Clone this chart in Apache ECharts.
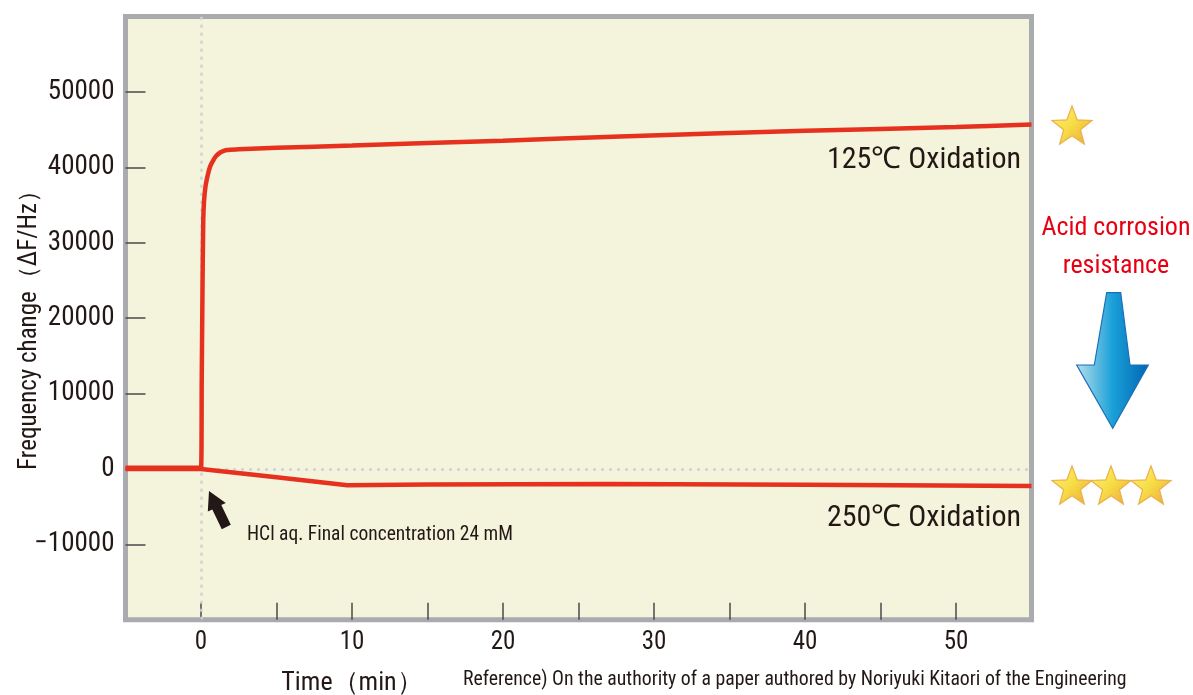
<!DOCTYPE html>
<html>
<head>
<meta charset="utf-8">
<script src="https://cdn.jsdelivr.net/npm/echarts@6/dist/echarts.min.js"></script>
<style>
html,body{margin:0;padding:0;background:#fff;}
#main{width:1193px;height:695px;}
</style>
</head>
<body>
<div id="main"></div>
<script>
// ---- data ----
const oxid125Time  = [-5, -2, 0, 0.05, 0.1, 0.15, 0.2, 0.3, 0.45, 0.6, 0.8, 1.0, 1.3, 1.7, 2.5, 5, 10, 20, 27.75, 40, 50, 55];
const oxid125Value = [150, 150, 150, 12000, 24000, 33000, 35500, 37500, 39000, 40100, 40900, 41500, 42000, 42300, 42400, 42600, 42900, 43550, 44100, 44850, 45350, 45700];
const oxid250Time  = [-5, -2, 0, 5, 9.7, 15, 27, 40, 55];
const oxid250Value = [0, 0, 0, -1100, -2150, -2050, -2000, -2100, -2250];
const xTickValues = [0, 5, 10, 15, 20, 25, 30, 35, 40, 45, 50];
const xLabelValues = [0, 10, 20, 30, 40, 50];
const yTickValues = [-10000, 0, 10000, 20000, 30000, 40000, 50000];
const seriesNames = ['125℃ Oxidation', '250℃ Oxidation'];

const NARROW = '"Liberation Sans Narrow", "Roboto Condensed", "Liberation Sans", sans-serif';
const TXT = '#231815';
const RED = '#e6311f';

function pairs(t, v){ return t.map((x,i)=>[x, v[i]]); }

function starPoints(cx, cy, R){
  const r = R*0.42, pts = [];
  for (let i=0;i<10;i++){
    const a = -Math.PI/2 + i*Math.PI/5;
    const rad = i%2===0 ? R : r;
    pts.push([cx + rad*Math.cos(a), cy + rad*Math.sin(a)]);
  }
  return pts;
}
const starFill = new echarts.graphic.LinearGradient(0,0,1,1,[
  {offset:0,color:'#fff27a'},{offset:0.5,color:'#f7dc45'},{offset:1,color:'#eca43a'}]);
function star(cx,cy){
  return {type:'polygon', shape:{points:starPoints(cx,cy,21)},
    style:{fill:starFill, stroke:'#eab04a', lineWidth:1.2}};
}

const chart = echarts.init(document.getElementById('main'), null, {renderer:'canvas'});
const option = {
  animation:false,
  backgroundColor:'#ffffff',
  grid:{left:125.5, right:161.5, top:16.6, bottom:75.2, show:true,
        backgroundColor:'#f4f3dc', borderColor:'#a9abae', borderWidth:5},
  xAxis:{
    type:'value', min:-5, max:55, interval:5,
    axisLine:{show:false, onZero:false},
    splitLine:{show:false},
    axisTick:{show:true, inside:true, length:17, customValues:xTickValues,
              lineStyle:{color:'#4a4a4a', width:1.5}},
    axisLabel:{show:true, customValues:xLabelValues, margin:10,
               fontFamily:NARROW, fontSize:25, color:TXT}
  },
  yAxis:{
    type:'value', min:-20000, max:60000, interval:10000,
    axisLine:{show:false, onZero:false},
    splitLine:{show:false},
    axisTick:{show:true, inside:true, length:20, customValues:yTickValues,
              lineStyle:{color:'#4a4a4a', width:1.5}},
    axisLabel:{show:true, customValues:yTickValues, margin:11,
               fontFamily:NARROW, fontSize:27, color:TXT,
               formatter:function(v){ return v<0 ? '\u2212'+Math.abs(v) : String(v); }}
  },
  series:[
    {type:'line', name:'guides', data:[], z:1, silent:true,
     markLine:{symbol:'none', silent:true, z:1, label:{show:false},
       lineStyle:{color:'#cfd1d6', type:[3,5], width:2.5},
       data:[ {xAxis:0}, [{coord:[0,0]},{coord:[55,0]}] ]}},
    {type:'line', name:seriesNames[0], data:pairs(oxid125Time, oxid125Value),
     showSymbol:false, smooth:0.3, z:3, lineStyle:{color:RED, width:4.5}},
    {type:'line', name:seriesNames[1], data:pairs(oxid250Time, oxid250Value),
     showSymbol:false, z:3, lineStyle:{color:RED, width:4.5}}
  ],
  graphic:[
    {type:'text', x:1021, y:160, style:{text:seriesNames[0], fill:TXT,
      font:'30px '+NARROW, textAlign:'right', textVerticalAlign:'middle'}},
    {type:'text', x:1021, y:518, style:{text:seriesNames[1], fill:TXT,
      font:'30px '+NARROW, textAlign:'right', textVerticalAlign:'middle'}},
    {type:'text', x:247, y:535, style:{text:'HCl aq. Final concentration 24 mM', fill:TXT,
      font:'19.5px '+NARROW, textAlign:'left', textVerticalAlign:'middle'}},
    {type:'polygon', shape:{points:[[209,491],[225.8,502.9],[221.3,505.0],[230.8,524.8],[221.8,529.2],[212.3,509.4],[207.8,511.5]]},
      style:{fill:'#231815'}},
    {type:'text', x:30, y:324, rotation:Math.PI/2, style:{text:'Frequency change（ΔF/Hz）', fill:TXT,
      font:'25px '+NARROW, textAlign:'center', textVerticalAlign:'middle'}},
    {type:'text', x:352, y:683, style:{text:'Time（min）', fill:TXT,
      font:'26px '+NARROW, textAlign:'center', textVerticalAlign:'middle'}},
    {type:'text', x:463, y:680, style:{text:'Reference) On the authority of a paper authored by Noriyuki Kitaori of the Engineering', fill:TXT,
      font:'19.8px '+NARROW, textAlign:'left', textVerticalAlign:'middle'}},
    {type:'text', x:1116, y:228, style:{text:'Acid corrosion', fill:'#e60012',
      font:'26px '+NARROW, textAlign:'center', textVerticalAlign:'middle'}},
    {type:'text', x:1116, y:266, style:{text:'resistance', fill:'#e60012',
      font:'26px '+NARROW, textAlign:'center', textVerticalAlign:'middle'}},
    {type:'polygon', shape:{points:[[1106.7,292.7],[1120.7,292.7],[1130,365],[1148.3,365],[1112.7,428.3],[1076.7,365],[1094.3,365]]},
      style:{fill:new echarts.graphic.LinearGradient(0,0,1,0,[
        {offset:0,color:'#b9e0ec'},{offset:0.5,color:'#1aa0d8'},{offset:1,color:'#0066b3'}]),
        stroke:'#1b6fb8', lineWidth:1.2}},
    star(1072,127),
    star(1072,487), star(1111,487), star(1151,487)
  ]
};
chart.setOption(option);
</script>
</body>
</html>
